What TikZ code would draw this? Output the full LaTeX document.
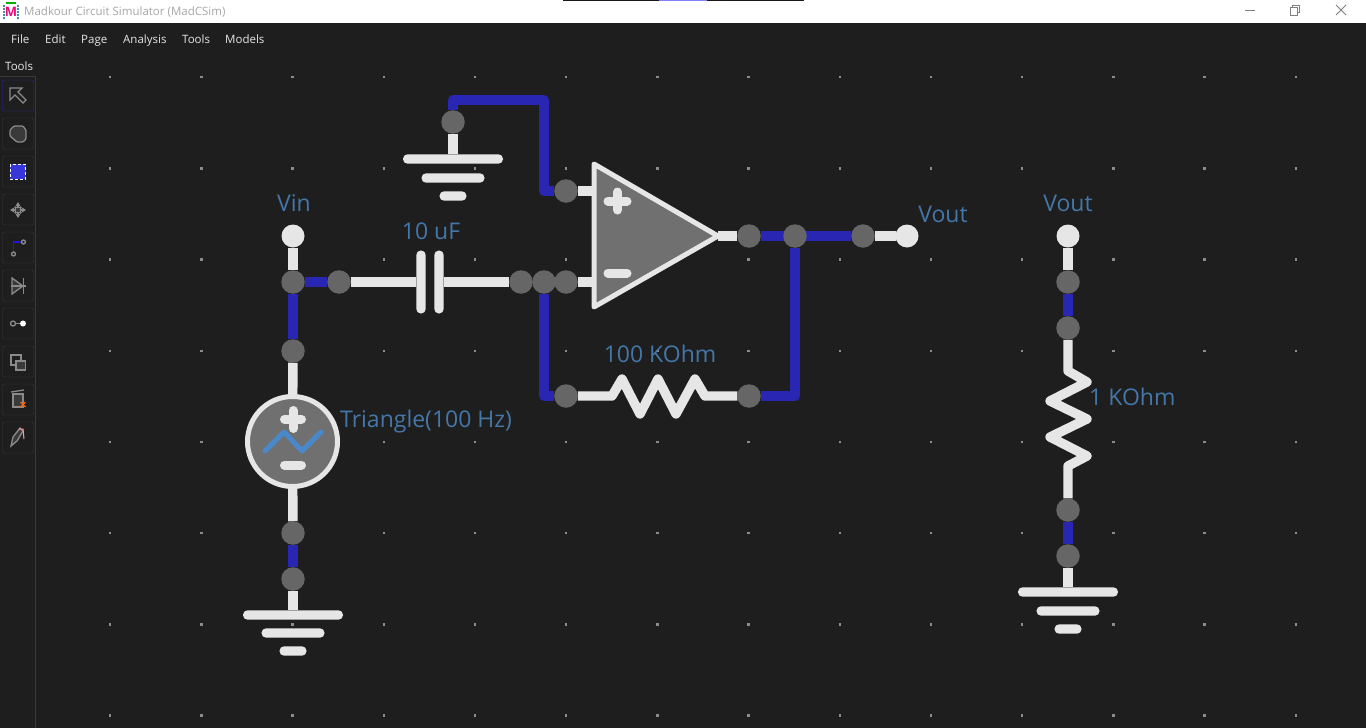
\documentclass[tikz,border=0pt]{standalone}
\usepackage{fontspec}
\setmainfont{Open Sans}
\usetikzlibrary{backgrounds,arrows.meta}
\definecolor{canvasbg}{HTML}{1E1E1E}
\definecolor{wireblue}{HTML}{2A26B4}
\definecolor{leadwhite}{HTML}{E6E6E6}
\definecolor{pingray}{HTML}{666666}
\definecolor{bodygray}{HTML}{707070}
\definecolor{labelblue}{HTML}{4477A8}
\definecolor{waveblue}{HTML}{4A88CC}
\definecolor{iconline}{HTML}{8A8A8A}
\definecolor{btnline}{HTML}{3A3A3A}
\begin{document}
\begin{tikzpicture}[
    x=1pt, y=-1pt,
    pin/.style={circle, fill=pingray, minimum size=23.5pt, inner sep=0pt, outer sep=0pt},
    enddot/.style={circle, fill=leadwhite, minimum size=23pt, inner sep=0pt, outer sep=0pt},
    wire/.style={draw=wireblue, line width=9.4pt, line join=round},
    lead/.style={draw=leadwhite, line width=9.4pt, line join=round},
    gndbar/.style={rectangle, fill=leadwhite, rounded corners=4.5pt, minimum height=9.4pt, inner sep=0pt, outer sep=0pt},
    plate/.style={rectangle, fill=leadwhite, rounded corners=4.5pt, minimum width=9.4pt, minimum height=63pt, inner sep=0pt, outer sep=0pt},
    sign/.style={draw=leadwhite, line width=9pt, line cap=round},
    complabel/.style={text=labelblue, font=\fontsize{23}{26}\selectfont, inner sep=0pt},
    menuitem/.style={text=leadwhite, font=\fontsize{11.5}{14}\selectfont, anchor=base west, inner sep=0pt},
    toolbtn/.style={rectangle, draw=btnline, fill=canvasbg, rounded corners=2pt, minimum size=31pt, inner sep=0pt},
    icon/.style={draw=iconline, line width=1.3pt},
    ]
    \useasboundingbox (0,0) rectangle (1366,728);

    % Window and grid
    \begin{scope}[on background layer]
    \fill[canvasbg] (0,0) rectangle (1366,728);
    \fill[white] (0,0) rectangle (1366,23);
    \fill[black!90] (563,0) rectangle (804,1);
    \fill[blue!50!white] (659,0) rectangle (707,1);
    \draw[btnline] (0,76.5) -- (35.5,76.5) -- (35.5,728);
    \foreach \i in {0,...,13}
        \foreach \j in {0,...,7}
            \fill[gray!90] ({110+91.2*\i-1},{77+91.2*\j-1}) rectangle +(2.4,2.4);
    \end{scope}

    % Title bar
    \node[text=magenta!80!red, font=\bfseries\fontsize{13}{14}\selectfont, inner sep=0pt] (logo) at (11,12) {M};
    \draw[green!70!black, line width=1.2pt] (6,3) -- (16,3);
    \draw[cyan!70!black, line width=1.2pt, dash pattern=on 1.5pt off 1.5pt] (4,5) -- (4,19) (18,5) -- (18,19);
    \node[text=gray!70, font=\fontsize{11.5}{14}\selectfont, anchor=base west, inner sep=0pt] (title) at (24,16) {Madkour Circuit Simulator (MadCSim)};
    \draw[gray, line width=1pt] (1245,10.5) -- (1255,10.5);
    \draw[gray, line width=1pt] (1290,7.5) rectangle (1297.5,15);
    \draw[gray, line width=1pt] (1292.5,7.5) -- (1292.5,5.5) -- (1299.5,5.5) -- (1299.5,12.5) -- (1297.5,12.5);
    \draw[gray, line width=1pt] (1336,5) -- (1346,15) (1346,5) -- (1336,15);

    % Menu
    \node[menuitem] (mfile) at (11,43) {File};
    \node[menuitem] (medit) at (45,43) {Edit};
    \node[menuitem] (mpage) at (81,43) {Page};
    \node[menuitem] (manalysis) at (123,43) {Analysis};
    \node[menuitem] (mtools) at (182,43) {Tools};
    \node[menuitem] (mmodels) at (225,43) {Models};
    \node[menuitem] (ttools) at (5,70) {Tools};

    % Tool buttons
    \node[toolbtn, draw=wireblue] (b1) at (18,95.5) {};
    \node[toolbtn] (b2) at (18,133.5) {};
    \node[toolbtn] (b3) at (18,171.5) {};
    \node[toolbtn] (b4) at (18,209.5) {};
    \node[toolbtn] (b5) at (18,247.5) {};
    \node[toolbtn] (b6) at (18,285.5) {};
    \node[toolbtn] (b7) at (18,323.5) {};
    \node[toolbtn] (b8) at (18,361.5) {};
    \node[toolbtn] (b9) at (18,399.5) {};
    \node[toolbtn] (b10) at (18,437.5) {};

    % Tool icons
    \draw[icon] (10,88) -- (22,88) -- (18,92) -- (26,100) -- (23,103) -- (15,95) -- (10,100) -- cycle;
    \draw[icon, fill=btnline, rounded corners=1pt] (14,126) -- (23,126) -- (26,130) -- (26,139) -- (23,142) -- (17,142) -- (10,136) -- (10,130) -- cycle;
    \draw[white, fill=blue!75!white!85!black, densely dashed] (10,164) rectangle (25.5,179);
    \draw[icon, line width=2pt, {Stealth[length=5pt,width=6pt]}-{Stealth[length=5pt,width=6pt]}] (10,210) -- (26,210);
    \draw[icon, line width=2pt, {Stealth[length=5pt,width=6pt]}-{Stealth[length=5pt,width=6pt]}] (18,202) -- (18,218);
    \draw[iconline, fill=btnline] (15.5,207) rectangle (20.5,212);
    \draw[wireblue!70!blue, line width=1.5pt] (13.5,254) -- (13.5,242) -- (23,242);
    \draw[icon, fill=canvasbg] (13.5,254) circle (2pt) (23.5,242) circle (2pt);
    \draw[icon, fill=btnline] (12,278) -- (12,294) -- (23,286) -- cycle;
    \draw[icon] (23.5,278) -- (23.5,294) (11,286) -- (26,286);
    \draw[icon] (15.5,323.5) -- (21,323.5);
    \draw[icon] (13,323.5) circle (2.5pt);
    \fill[white] (23,323.5) circle (3pt);
    \draw[icon] (11,355) rectangle (21,365);
    \draw[icon, fill=btnline] (16,361) rectangle (25.5,370);
    \draw[icon, fill=btnline] (13,394) rectangle (23,407);
    \draw[icon] (11,392) -- (24,390);
    \draw[orange!80!red, line width=1.4pt] (20.5,402) -- (25.5,407) (25.5,402) -- (20.5,407);
    \draw[icon, fill=btnline] (11,446) -- (13,437) -- (20,428) -- (23,431) -- (17,441) -- cycle;
    \draw[red!40!white, line width=1pt] (19,429) -- (23,429) -- (24,439);

    % Pins
    \node[pin] (pgndtop) at (453,122) {};
    \node[pin] (pplus) at (566,191) {};
    \node[pin] (pcapr) at (521,282) {};
    \node[pin] (pjoin) at (544,282) {};
    \node[pin] (pminus) at (566,282) {};
    \node[pin] (pout) at (749,236) {};
    \node[pin] (pfb) at (795,236) {};
    \node[pin] (pvout) at (863,236) {};
    \node[pin] (prfl) at (566,396) {};
    \node[pin] (prfr) at (749,396) {};
    \node[pin] (pvin) at (293,282) {};
    \node[pin] (pcapl) at (339,282) {};
    \node[pin] (psrct) at (293,351) {};
    \node[pin] (psrcb) at (293,533) {};
    \node[pin] (pgndl) at (293,579) {};
    \node[pin] (pload1) at (1068,282) {};
    \node[pin] (pload2) at (1068,328) {};
    \node[pin] (pload3) at (1068,510) {};
    \node[pin] (pload4) at (1068,556) {};

    % Probes
    \node[enddot] (dvin) at (293,236) {};
    \node[enddot] (dvout) at (907,236) {};
    \node[enddot] (dload) at (1068,236) {};

    % Grounds
    \node[gndbar, minimum width=100pt] (g1a) at (453,159) {};
    \node[gndbar, minimum width=63pt] (g1b) at (453,178) {};
    \node[gndbar, minimum width=27pt] (g1c) at (453,196) {};
    \node[gndbar, minimum width=100pt] (g2a) at (293,615) {};
    \node[gndbar, minimum width=63pt] (g2b) at (293,633) {};
    \node[gndbar, minimum width=27pt] (g2c) at (293,651) {};
    \node[gndbar, minimum width=100pt] (g3a) at (1068,592) {};
    \node[gndbar, minimum width=63pt] (g3b) at (1068,611) {};
    \node[gndbar, minimum width=27pt] (g3c) at (1068,629) {};

    % Capacitor
    \node[plate] (c1a) at (421,282) {};
    \node[plate] (c1b) at (439,282) {};

    % Triangle source
    \node[circle, draw=leadwhite, fill=bodygray, line width=5pt, minimum size=90pt, inner sep=0pt] (src) at (292.5,441.5) {};
    \draw[sign] (284.5,419) -- (301.5,419) (293,410.5) -- (293,428.5);
    \draw[sign] (284.5,465) -- (301.5,465);
    \draw[draw=waveblue, line width=5pt, line cap=round, line join=round] (265,451) -- (284,432) -- (302,451) -- (321,432);

    % Op amp
    \coordinate (oplus) at (594,191);
    \coordinate (ominus) at (594,282);
    \coordinate (otip) at (718,236);
    \draw[draw=leadwhite, fill=bodygray, line width=5pt, line join=round] (594,164) -- (594,307) -- (otip) -- cycle;
    \draw[sign] (608,201) -- (627,201) (617.5,192) -- (617.5,210);
    \draw[sign] (608,273) -- (627,273);

    % Wires
    \begin{scope}[on background layer]
    \coordinate (wtop) at (544,100);
    \coordinate (wfb) at (795,396);
    \draw[wire] (pgndtop) |- (wtop) |- (pplus);
    \draw[wire] (pjoin) |- (prfl);
    \draw[wire] (pout) -- (pvout);
    \draw[wire] (pfb) -- (wfb) -- (prfr);
    \draw[wire] (pvin) -- (pcapl);
    \draw[wire] (pvin) -- (psrct);
    \draw[wire] (psrcb) -- (pgndl);
    \draw[wire] (pload1) -- (pload2);
    \draw[wire] (pload3) -- (pload4);
    \draw[lead] (pgndtop) -- (g1a);
    \draw[lead] (pplus) -- (oplus);
    \draw[lead] (pminus) -- (ominus);
    \draw[lead] (pout) -- (otip);
    \draw[lead] (pvout) -- (dvout);
    \draw[lead] (dvin) -- (pvin);
    \draw[lead] (pcapl) -- (c1a);
    \draw[lead] (c1b) -- (pcapr);
    \draw[lead] (psrct) -- (src);
    \draw[lead] (psrcb) -- (src);
    \draw[lead] (pgndl) -- (g2a);
    \draw[lead] (dload) -- (pload1);
    \draw[lead] (pload4) -- (g3a);
    % Resistors
    \draw[lead] (prfl) -- (612,396) -- (622,379) -- (640,414) -- (658,379) -- (676,414) -- (695,379) -- (705,396) -- (prfr);
    \draw[lead] (pload2) -- (1068,371) -- (1087,382) -- (1050,401) -- (1087,419) -- (1050,437) -- (1087,456) -- (1068,466) -- (pload3);
    \end{scope}

    % Labels
    \node[complabel] (lvin) at (294,203) {Vin};
    \node[complabel] (lcap) at (431,231) {10 uF};
    \node[complabel] (lvout) at (943,214) {Vout};
    \node[complabel] (lload) at (1068,203) {Vout};
    \node[complabel, anchor=west] (lsrc) at (340,422) {Triangle(100 Hz)};
    \node[complabel] (lrf) at (660,354) {100 KOhm};
    \node[complabel, anchor=west] (lrl) at (1089,397) {1 KOhm};

\end{tikzpicture}
\end{document}
